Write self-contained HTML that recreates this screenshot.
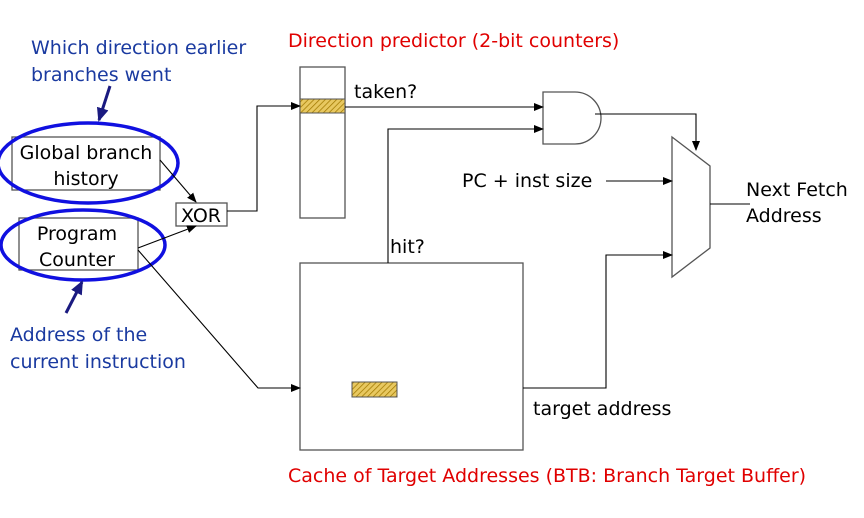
<!DOCTYPE html>
<html><head><style>
body{margin:0;background:#fff;}
svg text{font-family:"DejaVu Sans","Liberation Sans",sans-serif;}
</style></head><body>
<svg width="864" height="513" viewBox="0 0 864 513" xmlns="http://www.w3.org/2000/svg">
<defs>
<marker id="a" markerWidth="10" markerHeight="8" refX="9" refY="4" orient="auto" markerUnits="userSpaceOnUse"><path d="M0,0L10,4L0,8z" fill="#000"/></marker>
<marker id="b" markerWidth="14" markerHeight="12" refX="12" refY="6" orient="auto" markerUnits="userSpaceOnUse"><path d="M0,0L14,6L0,12z" fill="#1a1a80"/></marker>
<pattern id="h" width="4" height="4" patternUnits="userSpaceOnUse" patternTransform="rotate(45)"><rect width="4" height="4" fill="#e8c860"/><line x1="0" y1="0" x2="0" y2="4" stroke="#a07800" stroke-width="1.5"/></pattern>
</defs>
<g font-size="19">
<text x="31" y="54" fill="#1a3aa0">Which direction earlier</text>
<text x="31" y="81" fill="#1a3aa0">branches went</text>
<text x="288" y="47" fill="#e00000">Direction predictor (2-bit counters)</text>
<text x="10" y="341" fill="#1a3aa0">Address of the</text>
<text x="10" y="368" fill="#1a3aa0">current instruction</text>
<text x="288" y="482" fill="#e00000">Cache of Target Addresses (BTB: Branch Target Buffer)</text>
<text x="354" y="98">taken?</text>
<text x="462" y="187">PC + inst size</text>
<text x="746" y="196">Next Fetch</text>
<text x="746" y="222">Address</text>
<text x="390" y="253">hit?</text>
<text x="533" y="415">target address</text>
</g>
<g fill="none" stroke="#555" stroke-width="1.3">
<rect x="12" y="137" width="148" height="53" fill="#fff"/>
<rect x="19" y="218" width="119" height="52" fill="#fff"/>
<rect x="176" y="203" width="51" height="23" fill="#fff"/>
<rect x="300" y="67" width="45" height="151"/>
<rect x="300" y="263" width="223" height="187"/>
<path d="M543,92H575A26,26 0 0 1 575,144H543Z"/>
<path d="M672,137L710,166V248L672,277Z"/>
</g>
<rect x="300" y="99" width="45" height="14" fill="url(#h)" stroke="#555"/>
<rect x="352" y="382" width="45" height="15" fill="url(#h)" stroke="#555"/>
<g font-size="19" fill="#000">
<text x="86" y="159" text-anchor="middle">Global branch</text>
<text x="86" y="185" text-anchor="middle">history</text>
<text x="77" y="240" text-anchor="middle">Program</text>
<text x="77" y="266" text-anchor="middle">Counter</text>
<text x="201" y="222" text-anchor="middle">XOR</text>
</g>
<ellipse cx="88" cy="163" rx="90" ry="40" fill="none" stroke="#1010e0" stroke-width="3.5"/>
<ellipse cx="83" cy="245" rx="82" ry="35" fill="none" stroke="#1010e0" stroke-width="3.5"/>
<line x1="110" y1="86" x2="99" y2="120" stroke="#1a1a80" stroke-width="3" marker-end="url(#b)"/>
<line x1="66" y1="313" x2="82" y2="282" stroke="#1a1a80" stroke-width="3" marker-end="url(#b)"/>
<g fill="none" stroke="#000" stroke-width="1.1">
<line x1="160" y1="160" x2="196" y2="202" marker-end="url(#a)"/>
<line x1="138" y1="248" x2="196" y2="226" marker-end="url(#a)"/>
<path d="M138,250L258,388H300" marker-end="url(#a)"/>
<path d="M227,211H257V106H300" marker-end="url(#a)"/>
<line x1="345" y1="107" x2="543" y2="107" marker-end="url(#a)"/>
<path d="M388,263V129H543" marker-end="url(#a)"/>
<path d="M595,114H696V150" marker-end="url(#a)"/>
<line x1="606" y1="181" x2="672" y2="181" marker-end="url(#a)"/>
<path d="M523,388H606V255H672" marker-end="url(#a)"/>
<line x1="710" y1="204" x2="750" y2="204"/>
</g>
</svg>
</body></html>
